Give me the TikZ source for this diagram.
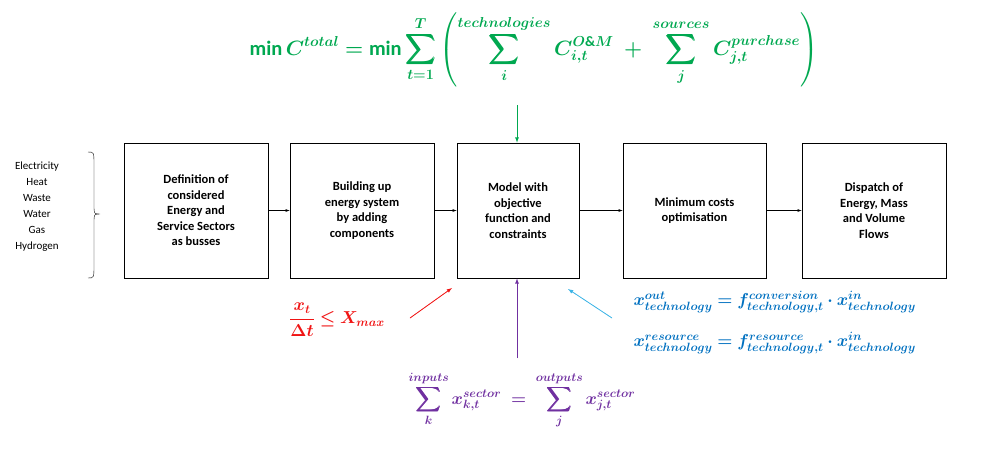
\documentclass[tikz,border=0pt]{standalone}
\usepackage{amsmath,bm}
\usepackage{fontspec}
\setmainfont{Carlito}
\definecolor{cgreen}{RGB}{0,168,80}
\definecolor{cred}{RGB}{240,20,20}
\definecolor{cpurple}{RGB}{112,48,160}
\definecolor{cblue}{RGB}{0,112,192}
\definecolor{ccyan}{RGB}{60,180,230}
\begin{document}
\begin{tikzpicture}[x=1pt,y=-1pt,
 box/.style={draw,thick,align=center,font=\bfseries\fontsize{12.5}{15.5}\selectfont,inner sep=2pt},
 arr/.style={-latex}]
\useasboundingbox (0,0) rectangle (982,456);
\node[box,minimum width=144,minimum height=135] (b1) at (196,210.5) {Definition of\\considered\\Energy and\\Service Sectors\\as busses};
\node[box,minimum width=144,minimum height=135] (b2) at (362,210.5) {Building up\\energy system\\by adding\\components};
\node[box,minimum width=122,minimum height=135] (b3) at (518,210.5) {Model with\\objective\\function and\\constraints};
\node[box,minimum width=143,minimum height=135] (b4) at (694.5,210.5) {Minimum costs\\optimisation};
\node[box,minimum width=144,minimum height=135] (b5) at (874,210.5) {Dispatch of\\Energy, Mass\\and Volume\\Flows};
\foreach \a/\b in {b1/b2,b2/b3,b3/b4,b4/b5}\draw[arr] (\a.east) -- (\b.west);
\node[align=center,font=\fontsize{11}{16}\selectfont] (lst) at (37,207) {Electricity\\Heat\\Waste\\Water\\Gas\\Hydrogen};
\draw (88,152) .. controls (94,152) .. (94,165) -- (94,205) .. controls (94,214) .. (100,214) .. controls (94,214) .. (94,223) -- (94,265) .. controls (94,278) .. (88,278);
\node[text=cgreen,font=\fontsize{20.5}{20.5}\selectfont] (obj) at (534,50) {$\displaystyle\bm{\min C^{total}=\min\sum_{t=1}^{T}\left(\sum_{i}^{technologies}C_{i,t}^{O\&M}\;+\;\sum_{j}^{sources}C_{j,t}^{purchase}\right)}$};
\coordinate (g0) at (517,105);
\draw[arr,draw=cgreen,fill=cgreen,line width=0.8] (g0) -- (b3.north -| g0);
\node[text=cred,font=\fontsize{18}{18}\selectfont] (red) at (337,320) {$\displaystyle\bm{\frac{x_t}{\Delta t}\le X_{max}}$};
\coordinate (r0) at (410,318);
\draw[arr,draw=cred,fill=cred,line width=0.8] (r0) -- (452,288);
\node[text=cpurple,font=\fontsize{18.5}{18.5}\selectfont] (pur) at (522,400) {$\displaystyle\bm{\sum_{k}^{inputs}x_{k,t}^{sector}\;=\;\sum_{j}^{outputs}x_{j,t}^{sector}}$};
\coordinate (p0) at (517,358);
\draw[arr,draw=cpurple,fill=cpurple,line width=0.8] (p0) -- (b3.south -| p0);
\node[text=cblue,font=\fontsize{18}{18}\selectfont,anchor=west] (bl1) at (630,302) {$\bm{x_{technology}^{out}=f_{technology,t}^{conversion}\cdot x_{technology}^{in}}$};
\node[text=cblue,font=\fontsize{18}{18}\selectfont,anchor=west] (bl2) at (630,343) {$\bm{x_{technology}^{resource}=f_{technology,t}^{resource}\cdot x_{technology}^{in}}$};
\coordinate (c0) at (612,318);
\draw[arr,draw=ccyan,fill=ccyan,line width=0.8] (c0) -- (568,289);
\end{tikzpicture}
\end{document}
